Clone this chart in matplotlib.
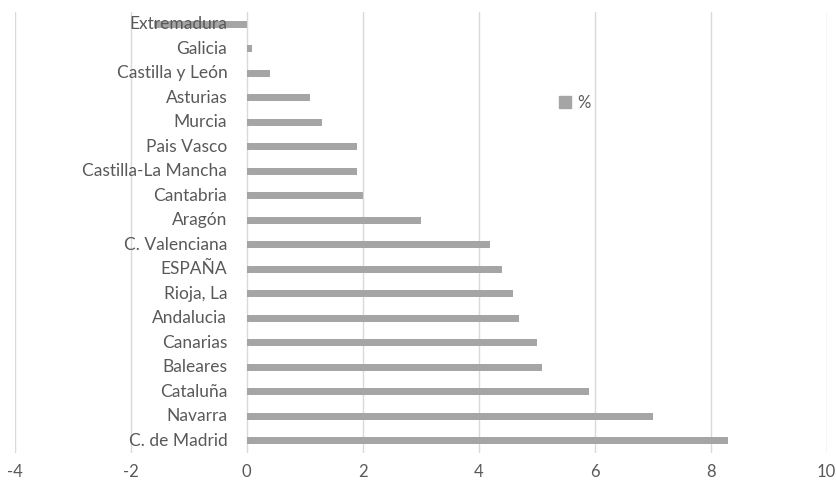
import matplotlib
matplotlib.use("Agg")
import matplotlib.pyplot as plt
from matplotlib.patches import Patch

categories = ["C. de Madrid", "Navarra", "Cataluña", "Baleares", "Canarias",
              "Andalucia", "Rioja, La", "ESPAÑA", "C. Valenciana", "Aragón",
              "Cantabria", "Castilla-La Mancha", "Pais Vasco", "Murcia",
              "Asturias", "Castilla y León", "Galicia", "Extremadura"]
values = [8.3, 7.0, 5.9, 5.1, 5.0, 4.7, 4.6, 4.4, 4.2, 3.0,
          2.0, 1.9, 1.9, 1.3, 1.1, 0.4, 0.1, -1.6]
xticks = [-4, -2, 0, 2, 4, 6, 8, 10]
series_name = "%"

plt.rcParams['font.family'] = ['Lato', 'DejaVu Sans']
bar_color = "#A5A5A5"
text_color = "#595959"

fig = plt.figure(figsize=(8.37, 4.87), dpi=100)
ax = fig.add_axes([0.0176, 0.070, 0.970, 0.905])

ypos = list(range(len(categories)))
ax.barh(ypos, values, height=0.28, color=bar_color, zorder=3)

ax.set_xlim(-4, 10)
ax.set_ylim(-0.5, len(categories) - 0.5)
ax.set_xticks(xticks)
ax.set_xticklabels([str(t) for t in xticks], fontsize=12, color=text_color)
ax.set_yticks([])
ax.grid(axis='x', color="#D9D9D9", linewidth=1, zorder=0)
ax.tick_params(axis='x', length=0, pad=8)
for s in ax.spines.values():
    s.set_visible(False)

for y, c in zip(ypos, categories):
    ax.annotate(c, xy=(0, y), xytext=(-14, 0), textcoords='offset points',
                ha='right', va='center', fontsize=12.5, color=text_color, zorder=4)

leg = ax.legend(handles=[Patch(color=bar_color, label=series_name)],
                loc='center', bbox_to_anchor=(0.69, 0.795), frameon=False,
                fontsize=12, handlelength=0.7, handleheight=0.7, handletextpad=0.4)
for t in leg.get_texts():
    t.set_color(text_color)

fig.savefig("out.png", dpi=100)
